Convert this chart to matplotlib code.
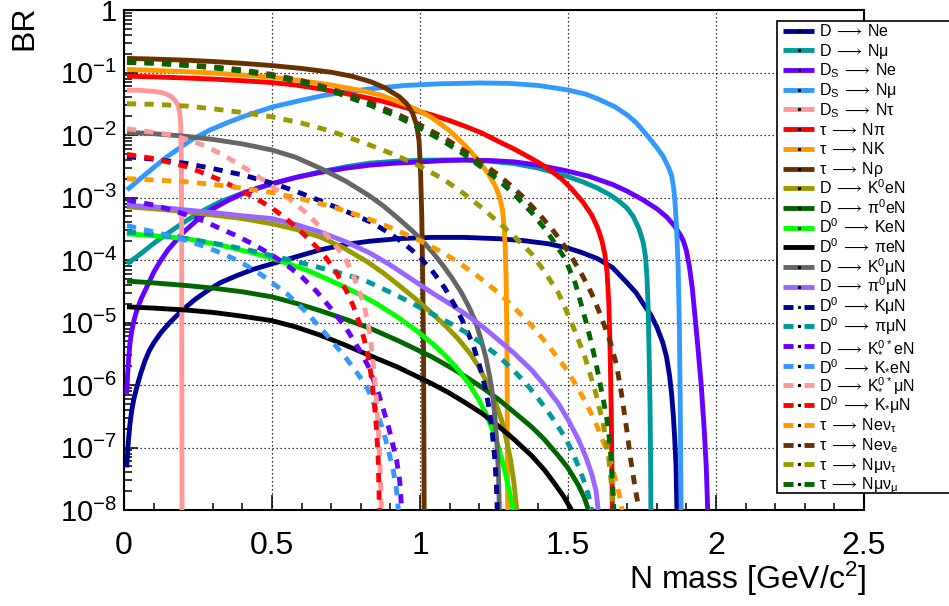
import matplotlib
matplotlib.use("Agg")
import matplotlib.pyplot as plt
from matplotlib.lines import Line2D
from matplotlib.patches import Rectangle
from matplotlib.ticker import FixedLocator, FixedFormatter, LogLocator, MultipleLocator, NullFormatter

plt.rcParams['font.family'] = ['Liberation Sans', 'DejaVu Sans']
plt.rcParams['mathtext.default'] = 'regular'
plt.rcParams['mathtext.fontset'] = 'custom'
plt.rcParams['mathtext.rm'] = 'Liberation Sans'
plt.rcParams['mathtext.it'] = 'Liberation Sans:italic'
plt.rcParams['mathtext.bf'] = 'Liberation Sans:bold'

# ---------------- branching ratios vs heavy neutral lepton mass [GeV/c^2] ----------------
m_d_ne = [0.009, 0.012, 0.015, 0.02, 0.026, 0.034, 0.043, 0.056, 0.071, 0.085, 0.099, 0.125, 0.155, 0.197,
          0.24, 0.285, 0.324, 0.38, 0.437, 0.5, 0.58, 0.662, 0.75, 0.831, 0.93, 1.04, 1.15, 1.265, 1.35, 1.433,
          1.5, 1.546, 1.6, 1.65, 1.698, 1.73, 1.754, 1.78, 1.80, 1.82, 1.833, 1.843, 1.85, 1.856, 1.861,
          1.865, 1.868]
br_d_ne = [4.8e-8, 7.9e-8, 1.29e-7, 2.34e-7, 3.9e-7, 6.2e-7, 9.1e-7, 1.51e-6, 2.45e-6, 3.5e-6, 4.6e-6,
           6.9e-6, 1.0e-5, 1.58e-5, 2.34e-5, 3.3e-5, 4.3e-5, 5.6e-5, 7.1e-5, 8.7e-5, 1.12e-4, 1.45e-4,
           1.78e-4, 2.0e-4, 2.2e-4, 2.3e-4, 2.3e-4, 2.19e-4, 2.04e-4, 1.82e-4, 1.55e-4, 1.32e-4, 1.05e-4,
           7.6e-5, 4.4e-5, 3.0e-5, 2.0e-5, 1.32e-5, 8.5e-6, 4.8e-6, 2.8e-6, 1.41e-6, 7.2e-7, 3.2e-7,
           1.26e-7, 5.0e-8, 1e-8]

m_d_nmu = [0.01, 0.03, 0.054, 0.075, 0.099, 0.125, 0.155, 0.18, 0.212, 0.26, 0.324, 0.4, 0.5, 0.58, 0.662,
           0.75, 0.831, 0.92, 1.0, 1.08, 1.152, 1.24, 1.321, 1.4, 1.49, 1.55, 1.60, 1.642, 1.67, 1.698, 1.72,
           1.74, 1.754, 1.762, 1.767, 1.771, 1.774, 1.777, 1.779, 1.78]
br_d_nmu = [8.7e-5, 1.02e-4, 1.23e-4, 1.48e-4, 1.82e-4, 2.24e-4, 2.82e-4, 3.4e-4, 4.3e-4, 5.9e-4, 8.5e-4,
            1.17e-3, 1.66e-3, 2.09e-3, 2.57e-3, 3.1e-3, 3.55e-3, 3.8e-3, 3.94e-3, 3.98e-3, 3.98e-3, 3.8e-3,
            3.47e-3, 2.95e-3, 2.24e-3, 1.78e-3, 1.41e-3, 1.1e-3, 8.9e-4, 6.9e-4, 5.0e-4, 3.16e-4, 1.91e-4,
            1.12e-4, 5.0e-5, 1.58e-5, 3.2e-6, 5.0e-7, 6.3e-8, 1e-8]

m_ds_ne = [0.009, 0.012, 0.016, 0.02, 0.026, 0.034, 0.043, 0.058, 0.077, 0.1, 0.122, 0.15, 0.2, 0.25, 0.29,
           0.35, 0.4, 0.45, 0.5, 0.58, 0.662, 0.75, 0.831, 0.92, 1.0, 1.08, 1.152, 1.24, 1.321, 1.4, 1.49, 1.57,
           1.65, 1.70, 1.754, 1.8, 1.833, 1.86, 1.88, 1.89, 1.9, 1.91, 1.92, 1.93, 1.94, 1.95, 1.96, 1.967, 1.972]
br_ds_ne = [7.2e-7, 1.41e-6, 2.75e-6, 4.6e-6, 7.2e-6, 1.1e-5, 1.55e-5, 2.4e-5, 3.7e-5, 6.3e-5, 9.5e-5,
            1.48e-4, 2.75e-4, 4.5e-4, 6.2e-4, 8.9e-4, 1.15e-3, 1.41e-3, 1.66e-3, 2.09e-3, 2.51e-3, 2.95e-3,
            3.3e-3, 3.55e-3, 3.7e-3, 3.9e-3, 3.98e-3, 3.9e-3, 3.7e-3, 3.3e-3, 2.7e-3, 2.19e-3, 1.62e-3,
            1.26e-3, 9.1e-4, 6.6e-4, 4.9e-4, 3.5e-4, 2.5e-4, 2.0e-4, 1.41e-4, 7.9e-5, 3.5e-5, 1.12e-5,
            3.5e-6, 1.0e-6, 2.0e-7, 5.0e-8, 1e-8]

m_ds_nmu = [0.01, 0.05, 0.1, 0.14, 0.178, 0.23, 0.29, 0.35, 0.4, 0.45, 0.503, 0.6, 0.685, 0.77, 0.85, 0.95,
            1.068, 1.2, 1.3, 1.4, 1.5, 1.56, 1.6, 1.659, 1.70, 1.73, 1.754, 1.78, 1.8, 1.822, 1.84, 1.85,
            1.857, 1.862, 1.867, 1.872, 1.876, 1.879, 1.882]
br_ds_nmu = [1.32e-3, 1.91e-3, 3.0e-3, 4.3e-3, 5.75e-3, 8.5e-3, 1.2e-2, 1.58e-2, 1.95e-2, 2.34e-2, 2.82e-2,
             3.6e-2, 4.4e-2, 5.0e-2, 5.6e-2, 6.2e-2, 6.6e-2, 6.8e-2, 6.7e-2, 6.2e-2, 5.25e-2, 4.5e-2,
             3.8e-2, 2.82e-2, 2.09e-2, 1.58e-2, 1.17e-2, 8.3e-3, 6.3e-3, 4.5e-3, 3.0e-3, 2.24e-3, 1.41e-3,
             7.9e-4, 3.16e-4, 7.9e-5, 1.0e-5, 6.3e-7, 1e-8]

m_ds_ntau = [0.01, 0.05, 0.099, 0.125, 0.144, 0.16, 0.172, 0.181, 0.187, 0.19, 0.192, 0.194, 0.195, 0.196]
br_ds_ntau = [5.2e-2, 5.2e-2, 5.0e-2, 4.8e-2, 4.5e-2, 4.1e-2, 3.6e-2, 3.1e-2, 2.5e-2, 1.9e-2, 1.26e-2,
              3.2e-3, 1e-4, 1e-8]

m_tau_npi = [0.01, 0.1, 0.2, 0.3, 0.4, 0.5, 0.58, 0.65, 0.73, 0.814, 0.87, 0.927, 0.98, 1.04, 1.1, 1.152,
             1.21, 1.265, 1.32, 1.377, 1.41, 1.445, 1.48, 1.512, 1.55, 1.58, 1.60, 1.615, 1.625, 1.632,
             1.638, 1.642, 1.646, 1.65]
br_tau_npi = [8.75e-2, 8.5e-2, 8.2e-2, 7.85e-2, 7.4e-2, 6.9e-2, 6.3e-2, 5.6e-2, 4.8e-2, 4.0e-2, 3.5e-2,
              2.95e-2, 2.5e-2, 2.1e-2, 1.7e-2, 1.38e-2, 1.07e-2, 7.9e-3, 5.9e-3, 4.2e-3, 3.4e-3, 2.63e-3,
              1.95e-3, 1.38e-3, 8.5e-4, 5.25e-4, 3.3e-4, 2.0e-4, 1.2e-4, 6.3e-5, 2.0e-5, 4.0e-6, 4.0e-7, 1e-8]

m_tau_nk = [0.01, 0.1, 0.2, 0.3, 0.4, 0.5, 0.6, 0.7, 0.76, 0.814, 0.87, 0.927, 0.97, 1.0, 1.04, 1.1, 1.152,
            1.19, 1.231, 1.255, 1.268, 1.278, 1.284, 1.288, 1.291, 1.294, 1.296]
br_tau_nk = [1.12e-1, 1.08e-1, 1.035e-1, 9.8e-2, 9.1e-2, 8.4e-2, 7.4e-2, 6.3e-2, 5.6e-2, 5.0e-2, 4.3e-2,
             3.4e-2, 2.8e-2, 2.4e-2, 1.9e-2, 1.17e-2, 6.8e-3, 4.3e-3, 2.4e-3, 1.51e-3, 1.05e-3, 6.6e-4,
             3.55e-4, 1.58e-4, 5.0e-5, 3.2e-6, 1e-8]

m_tau_nrho = [0.01, 0.1, 0.2, 0.3, 0.4, 0.5, 0.6, 0.7, 0.77, 0.831, 0.88, 0.93, 0.955, 0.975, 0.989, 0.997,
              1.002, 1.006, 1.009, 1.012, 1.014]
br_tau_nrho = [1.68e-1, 1.64e-1, 1.58e-1, 1.5e-1, 1.4e-1, 1.29e-1, 1.16e-1, 1.01e-1, 8.7e-2, 7.2e-2, 5.75e-2,
               4.1e-2, 3.16e-2, 2.24e-2, 1.41e-2, 7.9e-3, 2.5e-3, 5.0e-4, 6.3e-5, 3.2e-6, 1e-8]

m_d_k0en = [0.01, 0.1, 0.212, 0.3, 0.4, 0.5, 0.58, 0.662, 0.74, 0.82, 0.88, 0.927, 0.98, 1.04, 1.09, 1.13,
            1.17, 1.197, 1.225, 1.253, 1.275, 1.292, 1.306, 1.317, 1.327]
br_d_k0en = [7.1e-4, 6.6e-4, 5.9e-4, 5.25e-4, 4.6e-4, 3.8e-4, 3.1e-4, 2.34e-4, 1.58e-4, 9.5e-5, 6.0e-5,
             4.0e-5, 2.5e-5, 1.41e-5, 8.5e-6, 5.4e-6, 3.16e-6, 2.0e-6, 1.12e-6, 5.6e-7, 2.8e-7, 1.32e-7,
             6.3e-8, 2.8e-8, 1e-8]

m_d_pi0en = [0.01, 0.1, 0.212, 0.3, 0.4, 0.5, 0.58, 0.662, 0.75, 0.831, 0.927, 1.04, 1.1, 1.152, 1.21, 1.265,
             1.32, 1.377, 1.42, 1.467, 1.5, 1.535, 1.555, 1.569]
br_d_pi0en = [4.6e-5, 4.3e-5, 3.9e-5, 3.55e-5, 3.1e-5, 2.57e-5, 2.04e-5, 1.55e-5, 1.12e-5, 8.1e-6, 5.1e-6,
              2.82e-6, 1.95e-6, 1.38e-6, 9.1e-7, 5.9e-7, 3.6e-7, 2.14e-7, 1.35e-7, 7.4e-8, 4.7e-8, 2.5e-8,
              1.58e-8, 1e-8]

m_d0_ken = [0.01, 0.1, 0.212, 0.324, 0.437, 0.5, 0.55, 0.62, 0.685, 0.75, 0.8, 0.86, 0.927, 0.98, 1.04, 1.09,
            1.13, 1.165, 1.197, 1.222, 1.242, 1.26, 1.276, 1.29, 1.304, 1.315]
br_d0_ken = [2.63e-4, 2.45e-4, 2.19e-4, 1.74e-4, 1.29e-4, 1.07e-4, 8.9e-5, 6.8e-5, 5.0e-5, 3.6e-5, 2.75e-5,
             1.91e-5, 1.2e-5, 7.9e-6, 4.7e-6, 2.82e-6, 1.74e-6, 1.05e-6, 6.0e-7, 3.55e-7, 2.1e-7, 1.2e-7,
             6.6e-8, 3.55e-8, 1.78e-8, 1e-8]

m_d0_pien = [0.01, 0.1, 0.212, 0.3, 0.4, 0.5, 0.58, 0.662, 0.75, 0.831, 0.927, 1.04, 1.1, 1.152, 1.21, 1.265,
             1.32, 1.377, 1.42, 1.456, 1.485, 1.512]
br_d0_pien = [1.78e-5, 1.7e-5, 1.58e-5, 1.45e-5, 1.26e-5, 1.07e-5, 8.5e-6, 6.3e-6, 4.3e-6, 2.95e-6, 1.91e-6,
              1.05e-6, 7.4e-7, 5.25e-7, 3.5e-7, 2.2e-7, 1.32e-7, 7.4e-8, 4.4e-8, 2.6e-8, 1.66e-8, 1e-8]

m_d_k0mun = [0.01, 0.1, 0.212, 0.3, 0.4, 0.5, 0.58, 0.662, 0.75, 0.831, 0.88, 0.927, 0.975, 1.017, 1.05, 1.08,
             1.11, 1.14, 1.165, 1.187, 1.205, 1.222, 1.235, 1.245, 1.253, 1.26, 1.265, 1.268]
br_d_k0mun = [1.1e-2, 1.05e-2, 9.5e-3, 8.5e-3, 7.2e-3, 5.75e-3, 4.4e-3, 2.95e-3, 1.82e-3, 1.05e-3, 7.1e-4,
              4.6e-4, 2.9e-4, 1.82e-4, 1.2e-4, 7.9e-5, 5.0e-5, 3.0e-5, 1.78e-5, 1.05e-5, 5.6e-6, 2.82e-6,
              1.41e-6, 7.1e-7, 3.16e-7, 1.12e-7, 4.0e-8, 1e-8]

m_d_pi0mun = [0.01, 0.1, 0.212, 0.3, 0.4, 0.5, 0.58, 0.662, 0.75, 0.831, 0.9, 0.97, 1.04, 1.1, 1.152, 1.21,
              1.265, 1.32, 1.377, 1.42, 1.467, 1.5, 1.535, 1.56, 1.58, 1.595, 1.602]
br_d_pi0mun = [7.5e-4, 7.1e-4, 6.3e-4, 5.75e-4, 5.1e-4, 4.6e-4, 3.7e-4, 2.82e-4, 1.95e-4, 1.29e-4, 8.3e-5,
               5.0e-5, 3.0e-5, 2.0e-5, 1.38e-5, 8.7e-6, 5.25e-6, 3.16e-6, 1.74e-6, 1.0e-6, 5.1e-7, 2.8e-7,
               1.35e-7, 7.1e-8, 3.8e-8, 2.0e-8, 1e-8]

m_d0_kmun = [0.01, 0.1, 0.212, 0.3, 0.4, 0.5, 0.58, 0.662, 0.75, 0.831, 0.88, 0.927, 0.97, 1.0, 1.04, 1.084,
             1.12, 1.152, 1.178, 1.197, 1.213, 1.225, 1.236, 1.245, 1.253, 1.258, 1.261]
br_d0_kmun = [4.5e-3, 4.1e-3, 3.5e-3, 2.9e-3, 2.3e-3, 1.7e-3, 1.26e-3, 8.9e-4, 6.0e-4, 4.1e-4, 3.0e-4,
              2.14e-4, 1.48e-4, 1.1e-4, 6.8e-5, 3.55e-5, 1.78e-5, 8.9e-6, 4.5e-6, 2.4e-6, 1.26e-6, 7.1e-7,
              3.55e-7, 1.58e-7, 6.3e-8, 2.5e-8, 1e-8]

m_d0_pimun = [0.01, 0.1, 0.212, 0.324, 0.42, 0.5, 0.58, 0.65, 0.73, 0.814, 0.87, 0.927, 0.98, 1.04, 1.1,
              1.152, 1.21, 1.265, 1.31, 1.355, 1.39, 1.422, 1.455, 1.49, 1.515, 1.535, 1.553, 1.569, 1.58]
br_d0_pimun = [2.82e-4, 2.57e-4, 2.19e-4, 1.78e-4, 1.45e-4, 1.17e-4, 9.5e-5, 7.8e-5, 6.2e-5, 4.7e-5, 3.55e-5,
               2.63e-5, 1.95e-5, 1.38e-5, 9.8e-6, 7.1e-6, 4.6e-6, 2.9e-6, 1.82e-6, 1.1e-6, 6.9e-7, 4.4e-7,
               2.63e-7, 1.45e-7, 8.5e-8, 5.0e-8, 3.0e-8, 1.74e-8, 1e-8]

m_d_kst0en = [0.01, 0.099, 0.16, 0.212, 0.27, 0.324, 0.38, 0.437, 0.5, 0.55, 0.6, 0.65, 0.7, 0.752, 0.797,
              0.825, 0.859, 0.893, 0.921, 0.932, 0.938]
br_d_kst0en = [9.1e-4, 7.6e-4, 6.3e-4, 5.25e-4, 4.2e-4, 3.2e-4, 2.45e-4, 1.78e-4, 1.2e-4, 8.3e-5, 5.4e-5,
               3.16e-5, 1.66e-5, 7.9e-6, 3.55e-6, 2.0e-6, 7.6e-7, 2.2e-7, 6.3e-8, 2.8e-8, 1e-8]

m_d0_ksten = [0.01, 0.1, 0.16, 0.212, 0.27, 0.324, 0.37, 0.403, 0.44, 0.471, 0.51, 0.55, 0.617, 0.685,
              0.752, 0.797, 0.825, 0.848, 0.87, 0.89, 0.91, 0.92, 0.927]
br_d0_ksten = [3.55e-4, 2.82e-4, 2.4e-4, 2.04e-4, 1.66e-4, 1.32e-4, 1.05e-4, 8.7e-5, 6.9e-5, 5.5e-5, 4.0e-5,
               2.9e-5, 1.45e-5, 6.3e-6, 2.63e-6, 1.35e-6, 8.3e-7, 4.5e-7, 2.24e-7, 1.05e-7, 4.2e-8, 2.24e-8,
               1e-8]

m_d_kst0mun = [0.01, 0.1, 0.16, 0.212, 0.27, 0.324, 0.38, 0.437, 0.5, 0.55, 0.606, 0.65, 0.685, 0.72, 0.752,
               0.775, 0.797, 0.812, 0.825, 0.835, 0.845, 0.854, 0.861, 0.866, 0.869]
br_d_kst0mun = [1.26e-2, 1.1e-2, 1.0e-2, 8.5e-3, 6.8e-3, 5.1e-3, 3.6e-3, 2.45e-3, 1.51e-3, 1.02e-3, 6.2e-4,
                3.9e-4, 2.5e-4, 1.58e-4, 9.5e-5, 5.6e-5, 3.0e-5, 1.78e-5, 9.5e-6, 4.5e-6, 1.58e-6, 5.0e-7,
                1.41e-7, 4.0e-8, 1e-8]

m_d0_kstmun = [0.01, 0.1, 0.16, 0.212, 0.27, 0.324, 0.38, 0.437, 0.5, 0.55, 0.606, 0.65, 0.685, 0.72, 0.752,
               0.775, 0.797, 0.812, 0.825, 0.835, 0.845, 0.853, 0.859, 0.863]
br_d0_kstmun = [4.9e-3, 4.2e-3, 3.6e-3, 3.1e-3, 2.45e-3, 1.91e-3, 1.41e-3, 1.02e-3, 6.8e-4, 4.5e-4, 2.63e-4,
                1.62e-4, 1.05e-4, 6.0e-5, 3.16e-5, 1.82e-5, 9.3e-6, 5.25e-6, 2.82e-6, 1.41e-6, 5.6e-7, 2.0e-7,
                6.3e-8, 1e-8]

m_tau_nenutau = [0.01, 0.1, 0.212, 0.3, 0.4, 0.5, 0.6, 0.7, 0.814, 0.9, 1.0, 1.06, 1.118, 1.19, 1.265, 1.32,
                 1.377, 1.43, 1.49, 1.53, 1.557, 1.58, 1.60, 1.625, 1.645, 1.66, 1.673, 1.683]
br_tau_nenutau = [2.0e-3, 1.91e-3, 1.78e-3, 1.62e-3, 1.41e-3, 1.2e-3, 9.5e-4, 7.2e-4, 4.8e-4, 3.3e-4, 2.04e-4,
                  1.45e-4, 1.0e-4, 5.75e-5, 3.0e-5, 1.7e-5, 8.9e-6, 4.5e-6, 1.91e-6, 9.5e-7, 5.6e-7, 3.4e-7,
                  2.1e-7, 1.05e-7, 5.6e-8, 3.16e-8, 1.78e-8, 1e-8]

m_tau_nenue = [0.01, 0.1, 0.212, 0.3, 0.4, 0.5, 0.6, 0.7, 0.831, 0.92, 1.0, 1.08, 1.152, 1.21, 1.265, 1.31,
               1.355, 1.4, 1.445, 1.48, 1.512, 1.55, 1.58, 1.61, 1.642, 1.664, 1.681, 1.698, 1.712, 1.727, 1.74]
br_tau_nenue = [1.48e-1, 1.43e-1, 1.33e-1, 1.23e-1, 1.1e-1, 9.3e-2, 7.4e-2, 5.5e-2, 3.3e-2, 2.19e-2, 1.45e-2,
                9.1e-3, 5.5e-3, 3.55e-3, 2.29e-3, 1.51e-3, 9.5e-4, 5.6e-4, 3.16e-4, 1.91e-4, 1.12e-4, 5.5e-5,
                2.9e-5, 1.32e-5, 5.0e-6, 2.1e-6, 7.1e-7, 2.0e-7, 6.3e-8, 2.24e-8, 1e-8]

m_tau_nmunutau = [0.01, 0.1, 0.212, 0.3, 0.4, 0.5, 0.6, 0.7, 0.831, 0.92, 1.0, 1.08, 1.152, 1.21, 1.265,
                  1.32, 1.377, 1.42, 1.467, 1.512, 1.557, 1.591, 1.619, 1.636, 1.646, 1.652]
br_tau_nmunutau = [3.16e-2, 3.1e-2, 2.9e-2, 2.63e-2, 2.29e-2, 1.95e-2, 1.55e-2, 1.15e-2, 6.9e-3, 4.7e-3,
                   3.16e-3, 1.95e-3, 1.12e-3, 6.8e-4, 4.0e-4, 2.34e-4, 1.26e-4, 6.6e-5, 3.0e-5, 1.0e-5,
                   2.82e-6, 8.3e-7, 2.4e-7, 7.9e-8, 2.8e-8, 1e-8]

m_tau_nmunumu = [0.01, 0.1, 0.212, 0.3, 0.4, 0.5, 0.6, 0.7, 0.831, 0.92, 1.0, 1.08, 1.152, 1.21, 1.265, 1.32,
                 1.377, 1.43, 1.49, 1.525, 1.557, 1.58, 1.60, 1.62, 1.636, 1.646, 1.652, 1.655]
br_tau_nmunumu = [1.45e-1, 1.4e-1, 1.29e-1, 1.19e-1, 1.05e-1, 8.8e-2, 6.9e-2, 5.1e-2, 3.0e-2, 2.0e-2, 1.29e-2,
                  7.9e-3, 4.8e-3, 3.0e-3, 1.91e-3, 1.1e-3, 5.75e-4, 2.82e-4, 1.05e-4, 4.2e-5, 1.2e-5, 4.5e-6,
                  1.66e-6, 5.6e-7, 2.1e-7, 6.3e-8, 2.0e-8, 1e-8]

ARROW = r'$\,\longrightarrow\,$'
channel_labels = [
    f"D{ARROW}Ne", f"D{ARROW}Nμ", f"D$_S${ARROW}Ne", f"D$_S${ARROW}Nμ", f"D$_S${ARROW}Nτ",
    f"τ{ARROW}Nπ", f"τ{ARROW}NK", f"τ{ARROW}Nρ",
    f"D{ARROW}K$^0$eN", f"D{ARROW}π$^0$eN", f"D$^0${ARROW}KeN", f"D$^0${ARROW}πeN",
    f"D{ARROW}K$^0$μN", f"D{ARROW}π$^0$μN", f"D$^0${ARROW}KμN", f"D$^0${ARROW}πμN",
    f"D{ARROW}K$^{{0*}}_{{*}}$eN", f"D$^0${ARROW}K$_{{*}}$eN", f"D{ARROW}K$^{{0*}}_{{*}}$μN",
    f"D$^0${ARROW}K$_{{*}}$μN",
    f"τ{ARROW}Neν$_τ$", f"τ{ARROW}Neν$_e$", f"τ{ARROW}Nμν$_τ$", f"τ{ARROW}Nμν$_μ$",
]

masses = [m_d_ne, m_d_nmu, m_ds_ne, m_ds_nmu, m_ds_ntau, m_tau_npi, m_tau_nk, m_tau_nrho,
          m_d_k0en, m_d_pi0en, m_d0_ken, m_d0_pien, m_d_k0mun, m_d_pi0mun, m_d0_kmun, m_d0_pimun,
          m_d_kst0en, m_d0_ksten, m_d_kst0mun, m_d0_kstmun,
          m_tau_nenutau, m_tau_nenue, m_tau_nmunutau, m_tau_nmunumu]
ratios = [br_d_ne, br_d_nmu, br_ds_ne, br_ds_nmu, br_ds_ntau, br_tau_npi, br_tau_nk, br_tau_nrho,
          br_d_k0en, br_d_pi0en, br_d0_ken, br_d0_pien, br_d_k0mun, br_d_pi0mun, br_d0_kmun, br_d0_pimun,
          br_d_kst0en, br_d0_ksten, br_d_kst0mun, br_d0_kstmun,
          br_tau_nenutau, br_tau_nenue, br_tau_nmunutau, br_tau_nmunumu]

colors = ['#000099', '#009999', '#6600ff', '#3399ff', '#ff9999', '#ff0000', '#ff9900', '#663300',
          '#999900', '#006600', '#00ff00', '#000000', '#666666', '#9966ff',
          '#000099', '#009999', '#6600ff', '#3399ff', '#ff9999', '#ff0000',
          '#ff9900', '#663300', '#999900', '#006600']
dashed = [False] * 14 + [True] * 10

# ---------------- figure ----------------
W, H = 949, 606
fig = plt.figure(figsize=(W / 100, H / 100), dpi=100)
ax = fig.add_axes([124 / W, 1 - 510 / H, 740 / W, 500 / H])

LW = 3.5
DASH = (0, (1.9, 1.7))
for m, br, c, d in zip(masses, ratios, colors, dashed):
    ax.plot(m, br, color=c, lw=LW, ls=DASH if d else '-', dash_capstyle='butt',
            solid_capstyle='butt', solid_joinstyle='round', zorder=3)

ax.set_yscale('log')
ax.set_xlim(0, 2.5)
ax.set_ylim(1e-8, 1)

ydec = [10.0 ** k for k in range(-8, 1)]
ylab = ['$10^{-%d}$' % k for k in range(8, 0, -1)] + ['1']
ax.yaxis.set_major_locator(FixedLocator(ydec))
ax.yaxis.set_major_formatter(FixedFormatter(ylab))
ax.yaxis.set_minor_locator(LogLocator(base=10, subs=range(2, 10), numticks=20))
ax.yaxis.set_minor_formatter(NullFormatter())

xt = [0, 0.5, 1, 1.5, 2, 2.5]
ax.xaxis.set_major_locator(FixedLocator(xt))
ax.xaxis.set_major_formatter(FixedFormatter(['0', '0.5', '1', '1.5', '2', '2.5']))
ax.xaxis.set_minor_locator(MultipleLocator(0.1))

ax.tick_params(which='both', direction='in', top=False, right=False, width=1.1, colors='black')
ax.tick_params(axis='y', which='major', length=10, labelsize=21, pad=5)
ax.tick_params(axis='y', which='minor', length=6)
ax.tick_params(axis='x', which='major', length=11, labelsize=23, pad=15)
ax.tick_params(axis='x', which='minor', length=5)
for s in ax.spines.values():
    s.set_linewidth(1.5)

ax.grid(True, which='major', ls=(0, (1, 2.2)), color='black', lw=0.9)
ax.set_axisbelow(True)

ax.set_xlabel('N mass [GeV/c$^2$]', fontsize=23, loc='right')
ax.xaxis.set_label_coords(1.003, -0.1)
ax.set_ylabel('BR', fontsize=23, loc='top')
ax.yaxis.set_label_coords(-0.115, 1.01)

# ---------------- legend box ----------------
bx0, by0, bx1, by1 = 777, 21, 962, 493
fig.add_artist(Rectangle((bx0 / W, 1 - by1 / H), (bx1 - bx0) / W, (by1 - by0) / H,
                         transform=fig.transFigure, facecolor='white', edgecolor='black',
                         lw=1.2, zorder=10))
row0, pitch = 30.5, 19.72
for i, (lab, c, d) in enumerate(zip(channel_labels, colors, dashed)):
    yc = 1 - (row0 + i * pitch) / H
    fig.add_artist(Line2D([783 / W, 814 / W], [yc, yc], transform=fig.transFigure, color=c, lw=LW,
                          ls=(0, (2.06, 2.26)) if d else '-', dash_capstyle='butt',
                          solid_capstyle='butt', zorder=11))
    fig.add_artist(Line2D([798.5 / W], [yc], transform=fig.transFigure, marker='s', ms=1.3,
                          mfc='black', mec='black', ls='none', zorder=12))
    fig.text(819 / W, yc - 5.6 / H, lab, fontsize=11.5, va='baseline', ha='left', zorder=12,
             math_fontfamily='dejavusans')

fig.savefig('out.png', dpi=100)
